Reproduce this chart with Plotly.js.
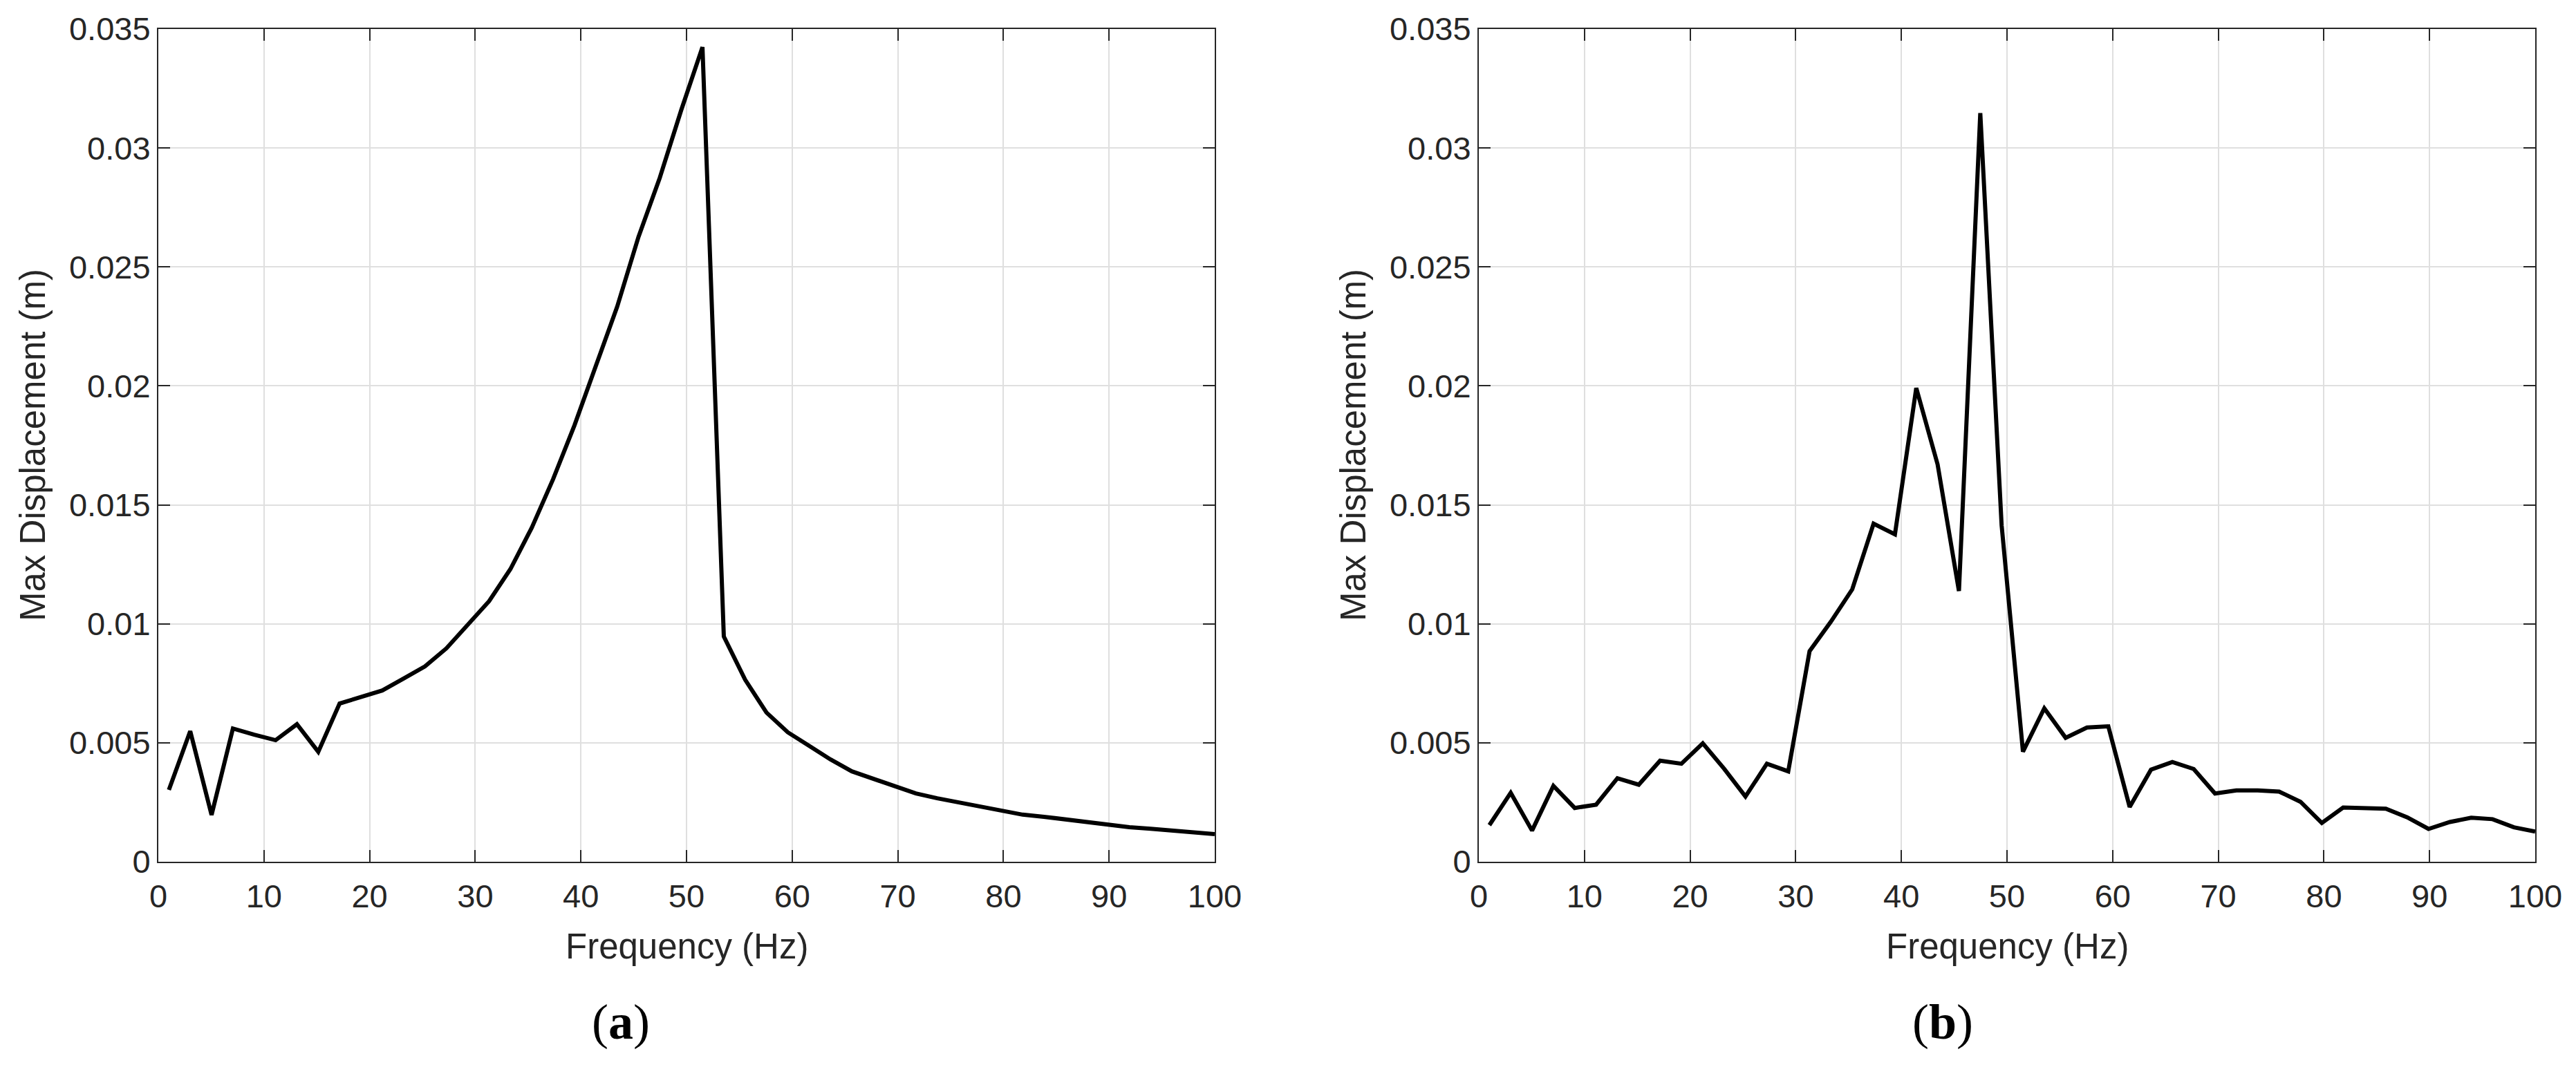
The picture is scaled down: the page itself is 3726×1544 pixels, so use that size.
<!DOCTYPE html>
<html>
<head>
<meta charset="utf-8">
<script src="https://cdn.plot.ly/plotly-3.0.1.min.js"></script>
<style>
	html, body { margin: 0; padding: 0; background: #fff; }
	#chart { width: 3726px; height: 1544px; }
</style>
</head>
<body>
<div id="chart"></div>
<script>

// frequencies (Hz), 50 samples from 1 to 100
var freq = [1, 3.02, 5.04, 7.06, 9.08, 11.1, 13.12, 15.14, 17.16, 19.18,
	21.2, 23.22, 25.24, 27.27, 29.29, 31.31, 33.33, 35.35, 37.37, 39.39,
	41.41, 43.43, 45.45, 47.47, 49.49, 51.51, 53.53, 55.55, 57.57, 59.59,
	61.61, 63.63, 65.65, 67.67, 69.69, 71.71, 73.73, 75.76, 77.78, 79.8,
	81.82, 83.84, 85.86, 87.88, 89.9, 91.92, 93.94, 95.96, 97.98, 100];

// max displacement (m), panel (a)
var dispA = [0.00302, 0.00549, 0.00197, 0.0056, 0.00534, 0.00511, 0.00578, 0.00462, 0.00665, 0.00691,
	0.0072, 0.0077, 0.00821, 0.00897, 0.00999, 0.01095, 0.0123, 0.01404, 0.01608, 0.01834,
	0.02083, 0.02332, 0.02626, 0.02875, 0.03158, 0.03424, 0.00947, 0.00765, 0.00627, 0.00544,
	0.00487, 0.0043, 0.0038, 0.00349, 0.00317, 0.00287, 0.00267, 0.0025, 0.00232, 0.00215,
	0.00198, 0.00189, 0.00177, 0.00166, 0.00157, 0.00145, 0.00139, 0.00131, 0.00125, 0.00116];

// max displacement (m), panel (b)
var dispB = [0.00154, 0.0029, 0.00131, 0.00319, 0.00226, 0.0024, 0.00351, 0.00324, 0.00425, 0.00412,
	0.00498, 0.00391, 0.00274, 0.00412, 0.0038, 0.00885, 0.01009, 0.01145, 0.01421, 0.01376,
	0.01991, 0.0167, 0.01138, 0.03147, 0.01414, 0.00463, 0.00645, 0.00521, 0.00564, 0.00569,
	0.0023, 0.00387, 0.00419, 0.0039, 0.00287, 0.003, 0.003, 0.00295, 0.00252, 0.00163,
	0.00228, 0.00224, 0.00223, 0.00187, 0.00138, 0.00167, 0.00185, 0.00179, 0.00145, 0.00127];

var xTicks = [0, 10, 20, 30, 40, 50, 60, 70, 80, 90, 100];
var yTicks = [0, 0.005, 0.01, 0.015, 0.02, 0.025, 0.03, 0.035];
var yTickText = ['0', '0.005', '0.01', '0.015', '0.02', '0.025', '0.03', '0.035'];

var xLabel = 'Frequency (Hz)';
var yLabel = 'Max Displacement (m)';
var panelLabels = ['(<b>a</b>)', '(<b>b</b>)'];

var W = 3726, H = 1544;
var axColor = '#262626';
var sans = 'Liberation Sans, Arial, sans-serif';

function px(x) { return x / W; }
function py(y) { return 1 - y / H; }

function baseAxis() {
	return {
		ticks: 'inside',
		ticklen: 17,
		tickwidth: 2,
		tickcolor: axColor,
		showline: true,
		linecolor: axColor,
		linewidth: 2,
		mirror: 'ticks',
		showgrid: true,
		gridcolor: '#dfdfdf',
		gridwidth: 2,
		zeroline: false,
		tickfont: {family: sans, size: 47, color: axColor}
	};
}

function xAxis(left, right) {
	var ax = baseAxis();
	ax.domain = [px(left), px(right)];
	ax.range = [0, 100];
	ax.tickvals = xTicks;
	ax.ticklabelstandoff = 8;
	return ax;
}

function yAxis(anchor) {
	var ax = baseAxis();
	ax.domain = [py(1247), py(42)];
	ax.range = [0, 0.035];
	ax.anchor = anchor;
	ax.tickvals = yTicks;
	ax.ticktext = yTickText;
	return ax;
}

function label(text, x, y, angle, font) {
	return {
		text: text,
		xref: 'paper', yref: 'paper',
		x: x, y: y,
		xanchor: 'center', yanchor: 'middle',
		textangle: angle,
		showarrow: false,
		font: font
	};
}

function drawChart(div) {

	var lineStyle = {color: '#000000', width: 6};

	var data = [
		{x: freq, y: dispA, type: 'scatter', mode: 'lines', line: lineStyle, xaxis: 'x', yaxis: 'y'},
		{x: freq, y: dispB, type: 'scatter', mode: 'lines', line: lineStyle, xaxis: 'x2', yaxis: 'y2'}
	];

	var labelFont = {family: sans, size: 51, color: axColor};
	var panelFont = {family: 'Liberation Serif, Times New Roman, serif', size: 72, color: '#000000'};

	var layout = {
		width: W,
		height: H,
		margin: {t: 0, b: 0, l: 0, r: 0},
		paper_bgcolor: '#ffffff',
		plot_bgcolor: '#ffffff',
		showlegend: false,
		xaxis: xAxis(229, 1757),
		yaxis: yAxis('x'),
		xaxis2: xAxis(2139, 3667),
		yaxis2: yAxis('x2'),
		annotations: [
			label(xLabel, px(993), py(1369), 0, labelFont),
			label(xLabel, px(2903), py(1369), 0, labelFont),
			label(yLabel, px(48), py(644), -90, labelFont),
			label(yLabel, px(1958), py(644), -90, labelFont),
			label(panelLabels[0], px(898), py(1479), 0, panelFont),
			label(panelLabels[1], px(2810), py(1479), 0, panelFont)
		]
	};

	Plotly.newPlot(div, data, layout, {staticPlot: true});
}

drawChart('chart');

</script>
</body>
</html>
